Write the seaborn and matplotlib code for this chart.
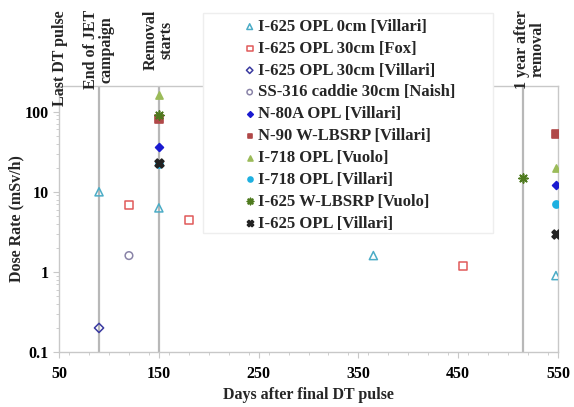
import numpy as np
import pandas as pd
import matplotlib
matplotlib.use('Agg')
import matplotlib.pyplot as plt
import matplotlib.transforms as mtransforms
from matplotlib.patches import Rectangle
from matplotlib.ticker import NullFormatter, MultipleLocator
import seaborn as sns

# series: (label, days, dose rates)
labels = ['I-625 OPL 0cm [Villari]', 'I-625 OPL 30cm [Fox]', 'I-625 OPL 30cm [Villari]',
          'SS-316 caddie 30cm [Naish]', 'N-80A OPL [Villari]', 'N-90 W-LBSRP [Villari]',
          'I-718 OPL [Vuolo]', 'I-718 OPL [Villari]', 'I-625 W-LBSRP [Vuolo]',
          'I-625 OPL [Villari]']
days = [[90, 150, 365, 548], [120, 180, 455], [90], [120], [150, 548], [150, 548],
        [150, 548], [150, 548], [150, 515], [150, 548]]
dose = [[10, 6.3, 1.6, 0.9], [6.8, 4.4, 1.2], [0.2], [1.6], [36, 12], [82, 53],
        [160, 20], [22, 7], [90, 15], [23, 3]]

colors = ['#4bacc6', '#e05a5a', '#3a3aa0', '#8a84a8', '#1a1ad0', '#b04848',
          '#9bbb59', '#1eb0e0', '#4e7a1e', '#222222']
markers = ['^', 's', 'D', 'o', 'D', 's', '^', 'o', (8, 2, 0), 'X']
filled = [False, False, False, False, True, True, True, True, True, True]
sizes = [34, 34, 22, 30, 16, 26, 26, 26, 40, 40]

events = [90, 150, 515]
event_text = [(51, 'Last DT pulse'), (90, 'End of JET\ncampaign'),
              (150, 'Removal\nstarts'), (522, '1 year after\nremoval')]

sns.set_style('ticks')
plt.rcParams['font.family'] = ['Liberation Serif', 'DejaVu Serif']
plt.rcParams['font.weight'] = 'bold'

W, H = 574, 407
fig = plt.figure(figsize=(W / 100, H / 100), dpi=100)
ax = fig.add_axes([0.103, 0.135, 0.869, 0.654])

for x in events:
    ax.axvline(x, color='#b8b8b8', lw=1.6, zorder=1)

for i, lab in enumerate(labels):
    df = pd.DataFrame({'day': days[i], 'dose': dose[i]})
    if filled[i]:
        sns.scatterplot(data=df, x='day', y='dose', ax=ax, marker=markers[i], s=sizes[i],
                        color=colors[i], edgecolor=colors[i], linewidth=1.2, label=lab, zorder=3)
    else:
        sns.scatterplot(data=df, x='day', y='dose', ax=ax, marker=markers[i], s=sizes[i],
                        color=colors[i], facecolor='none', edgecolor=colors[i], linewidth=1.1,
                        label=lab, zorder=3)

ax.set_yscale('log')
ax.set_xlim(50, 550)
ax.set_ylim(0.1, 210)
ax.set_xticks([50, 150, 250, 350, 450, 550])
ax.xaxis.set_minor_locator(MultipleLocator(20))
ax.set_yticks([0.1, 1, 10, 100])
ax.set_yticklabels(['0.1', '1', '10', '100'])
ax.yaxis.set_minor_formatter(NullFormatter())
ax.tick_params(axis='both', which='both', colors='#c8c8c8', labelcolor='black', labelsize=11.5)
ax.tick_params(axis='both', which='major', length=4)
ax.tick_params(axis='both', which='minor', length=2.5)
ax.tick_params(axis='x', which='major', pad=6)
for sp in ax.spines.values():
    sp.set_color('#c8c8c8')
    sp.set_linewidth(1.0)

ax.set_xlabel('Days after final DT pulse', fontsize=11.5, fontweight='bold', labelpad=4)
ax.set_ylabel('Dose Rate (mSv/h)', fontsize=11.5, fontweight='bold', labelpad=0)

trans = mtransforms.blended_transform_factory(ax.transData, ax.transAxes)
for x, t in event_text:
    ax.text(x, 1.285, t, transform=trans, rotation=90, ha='center', va='top',
            multialignment='center', fontsize=11.5, fontweight='bold', linespacing=0.95)

# legend box (white, faint border) covering the top of the axes
box = Rectangle((203 / W, 1 - 233 / H), 290 / W, 220 / H, transform=fig.transFigure,
                facecolor='white', edgecolor='#eeeeee', lw=1.0, zorder=2)
fig.patches.append(box)

handles, lbls = ax.get_legend_handles_labels()
ax.get_legend().remove()
leg = fig.legend(handles, lbls, loc='upper left', bbox_to_anchor=(243 / W, 1 - 19 / H),
                 frameon=False, fontsize=12, handletextpad=0.1,
                 handlelength=0.8, labelspacing=0.35, borderpad=0, markerscale=0.7,
                 borderaxespad=0)
leg.set_zorder(5)

fig.savefig('out.png', dpi=100)
